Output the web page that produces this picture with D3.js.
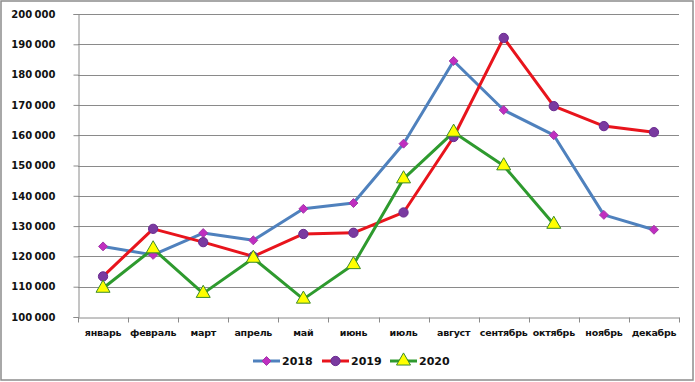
<!DOCTYPE html>
<html><head><meta charset="utf-8">
<script src="https://cdn.jsdelivr.net/npm/d3@7"></script>
<style>body{margin:0;background:#fff}</style>
</head><body>
<svg id="c" width="695" height="382"></svg>
<script>
const months = ["январь","февраль","март","апрель","май","июнь","июль","август","сентябрь","октябрь","ноябрь","декабрь"];
const s2018 = [123300,120500,127700,125300,135700,137600,157200,184500,168300,160000,133700,128800];
const s2019 = [113400,129100,124700,120000,127400,127800,134500,159400,192100,169600,163000,161000];
const s2020 = [109500,122500,107800,119400,105900,117300,145600,161000,149900,130600];
const yTicks = [100000,110000,120000,130000,140000,150000,160000,170000,180000,190000,200000];
const seriesNames = ["2018","2019","2020"];

const svg = d3.select("#c");
const L = 78, R = 679, T = 14, B = 317;
svg.append("rect").attr("x",1).attr("y",1).attr("width",692).attr("height",379)
  .attr("fill","#fff").attr("stroke","#8c8c8c").attr("stroke-width",1.5);

const x = d3.scaleBand().domain(months).range([L,R]);
const y = d3.scaleLinear().domain([100000,200000]).range([B,T]);
const fmt = v => d3.format(",")(v).replace(/,/g," ");

svg.append("g").selectAll("line").data(yTicks.slice(1)).join("line")
  .attr("x1",L).attr("x2",R).attr("y1",d=>Math.round(y(d))+0.5).attr("y2",d=>Math.round(y(d))+0.5)
  .attr("stroke","#8a8a8a").attr("stroke-width",1);

const ya = svg.append("g").attr("transform",`translate(${L+0.5},0)`)
  .call(d3.axisLeft(y).tickValues(yTicks).tickFormat(fmt).tickSize(5).tickPadding(18));
ya.select(".domain").attr("stroke","#8a8a8a");
ya.selectAll(".tick line").attr("stroke","#8a8a8a");
ya.selectAll("text").attr("font-family","DejaVu Sans").attr("font-weight","bold")
  .attr("font-size","10px").attr("fill","#111").attr("word-spacing","-1px");

const xa = svg.append("g").attr("transform",`translate(0,${B+0.5})`)
  .call(d3.axisBottom(x).tickSize(0).tickPadding(12));
xa.select(".domain").attr("stroke","#8a8a8a");
xa.selectAll("text").attr("font-family","DejaVu Sans").attr("font-weight","bold")
  .attr("font-size","9.5px").attr("letter-spacing","-0.25px").attr("fill","#111");
const bounds = months.map(m=>x(m)).concat([R]);
xa.append("g").selectAll("line").data(bounds).join("line")
  .attr("x1",d=>Math.round(d)+0.5).attr("x2",d=>Math.round(d)+0.5).attr("y1",0).attr("y2",5)
  .attr("stroke","#8a8a8a");

const cx = i => x(months[i]) + x.bandwidth()/2;
const line = d3.line().x((d,i)=>cx(i)).y(d=>y(d));

const diamond = {draw(ctx,size){const r=Math.sqrt(size/2);ctx.moveTo(0,-r);ctx.lineTo(r,0);ctx.lineTo(0,r);ctx.lineTo(-r,0);ctx.closePath();}};
const styles = [
  {data:s2018, color:"#4f81bd", marker:"diamond", mfill:"#c02ec0", mstroke:"#a03aa8"},
  {data:s2019, color:"#e8141c", marker:"circle", mfill:"#7a3aa0", mstroke:"#6a2a90"},
  {data:s2020, color:"#2e9a2e", marker:"triangle", mfill:"#ffff00", mstroke:"#3a8a2a"}
];
const sym = {
  diamond: d3.symbol().type(diamond).size(40),
  circle: d3.symbol().type(d3.symbolCircle).size(68),
  triangle: d3.symbol().type(d3.symbolTriangle).size(85)
};

styles.forEach(s=>{
  svg.append("path").datum(s.data).attr("d",line).attr("fill","none")
    .attr("stroke",s.color).attr("stroke-width",3).attr("stroke-linejoin","round");
});
styles.forEach(s=>{
  svg.append("g").selectAll("path").data(s.data).join("path")
    .attr("d",sym[s.marker]).attr("transform",(d,i)=>`translate(${cx(i)},${y(d)})`)
    .attr("fill",s.mfill).attr("stroke",s.mstroke).attr("stroke-width",1);
});

const lx = [253, 322, 390];
const lg = svg.append("g");
styles.forEach((s,i)=>{
  const g = lg.append("g").attr("transform",`translate(${lx[i]},361)`);
  g.append("line").attr("x1",0).attr("x2",27).attr("stroke",s.color).attr("stroke-width",3);
  g.append("path").attr("d",sym[s.marker]).attr("transform","translate(13.5,0)")
    .attr("fill",s.mfill).attr("stroke",s.mstroke);
  g.append("text").attr("x",29).attr("y",4).text(seriesNames[i])
    .attr("font-family","DejaVu Sans").attr("font-weight","bold").attr("font-size","11px").attr("fill","#111");
});
</script>
</body></html>
